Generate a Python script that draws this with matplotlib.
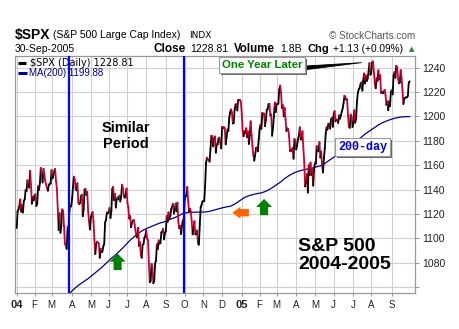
import matplotlib.pyplot as plt
from matplotlib.collections import LineCollection
from matplotlib.patches import Rectangle
from matplotlib.transforms import IdentityTransform
import numpy as np

plt.rcParams['font.family'] = ['Liberation Sans', 'DejaVu Sans']

# trading days in each month, Jan 2004 .. Sep 2005
month_days = [20, 19, 23, 21, 20, 21, 21, 22, 21, 21, 21, 22,
              20, 19, 22, 21, 21, 22, 20, 23, 21]
month_labels = ['04', 'F', 'M', 'A', 'M', 'J', 'J', 'A', 'S', 'O', 'N', 'D',
                '05', 'F', 'M', 'A', 'M', 'J', 'J', 'A', 'S']

# $SPX daily closes
closes = [
    # 2004
    1108.48, 1122.22, 1123.67, 1126.33, 1131.92, 1121.86, 1127.23, 1121.22, 1130.52, 1132.05,
    1139.83, 1138.77, 1147.62, 1143.94, 1141.55, 1155.37, 1144.05, 1128.48, 1134.11, 1131.13,
    1135.26, 1136.03, 1126.52, 1128.59, 1142.76, 1139.81, 1145.54, 1157.76, 1152.11, 1145.81,
    1156.99, 1151.82, 1147.06, 1144.11, 1140.99, 1139.09, 1143.67, 1144.91, 1144.94,
    1155.97, 1149.10, 1151.03, 1154.87, 1156.86, 1147.20, 1140.58, 1123.89, 1106.78, 1120.57,
    1104.49, 1110.70, 1123.75, 1122.32, 1109.78, 1095.40, 1093.95, 1091.33, 1109.19, 1108.06,
    1122.47, 1127.00, 1126.21,
    1132.17, 1141.81, 1150.57, 1148.16, 1140.53, 1139.32, 1145.20, 1129.44, 1128.17, 1128.84,
    1134.61, 1135.82, 1118.15, 1124.09, 1139.93, 1140.60, 1135.53, 1138.11, 1122.41, 1113.89,
    1107.30,
    1117.49, 1119.55, 1121.53, 1113.99, 1098.70, 1087.12, 1095.45, 1097.28, 1096.44, 1095.70,
    1084.10, 1091.49, 1088.68, 1089.19, 1093.56, 1095.41, 1113.05, 1114.94, 1121.28, 1120.68,
    1121.20, 1124.99, 1116.64, 1122.50, 1140.42, 1142.18, 1131.33, 1136.47, 1125.29, 1132.01,
    1133.56, 1132.05, 1135.02, 1130.30, 1134.41, 1144.06, 1140.65, 1134.43, 1133.35, 1136.20,
    1140.84,
    1128.94, 1125.38, 1116.21, 1118.33, 1109.11, 1112.81, 1114.35, 1115.14, 1111.47, 1106.69,
    1101.39, 1100.90, 1108.67, 1093.88, 1096.84, 1086.20, 1084.07, 1094.83, 1095.42, 1100.43,
    1101.72,
    1106.62, 1099.69, 1098.63, 1080.70, 1063.97, 1065.22, 1079.04, 1075.79, 1063.23, 1064.80,
    1079.34, 1081.71, 1095.17, 1091.23, 1098.35, 1095.68, 1096.19, 1104.96, 1105.09, 1107.77,
    1099.15, 1104.24,
    1105.91, 1118.31, 1113.63, 1121.30, 1116.27, 1118.38, 1123.92, 1125.82, 1128.33, 1120.37,
    1123.50, 1128.55, 1122.20, 1129.30, 1113.56, 1108.36, 1110.11, 1103.52, 1110.06, 1114.80,
    1114.58,
    1131.50, 1135.17, 1134.48, 1142.05, 1130.65, 1122.14, 1124.39, 1121.84, 1113.65, 1103.29,
    1108.20, 1114.02, 1103.23, 1103.66, 1106.49, 1095.74, 1094.80, 1111.09, 1125.40, 1127.44,
    1130.20,
    1130.51, 1130.56, 1143.20, 1161.67, 1166.17, 1164.89, 1164.08, 1162.91, 1173.48, 1184.17,
    1183.81, 1175.43, 1181.94, 1183.55, 1170.34, 1177.24, 1176.94, 1181.76, 1182.65, 1178.57,
    1173.82,
    1191.37, 1190.33, 1191.17, 1190.25, 1177.07, 1182.81, 1189.24, 1188.00, 1198.68, 1203.38,
    1205.72, 1203.21, 1194.20, 1194.65, 1205.45, 1209.57, 1210.13, 1204.92, 1213.54, 1213.45,
    1213.55, 1211.92,
    # 2005
    1202.08, 1188.05, 1183.74, 1187.89, 1186.19, 1190.25, 1182.99, 1187.70, 1177.45, 1184.52,
    1195.98, 1184.63, 1175.41, 1167.87, 1163.75, 1168.41, 1174.07, 1174.55, 1171.36, 1181.27,
    1189.41, 1193.19, 1189.89, 1203.03, 1201.72, 1202.30, 1191.99, 1197.01, 1205.30, 1206.14,
    1210.12, 1210.34, 1200.75, 1201.59, 1184.16, 1190.80, 1200.20, 1211.37, 1203.60,
    1210.41, 1210.08, 1210.47, 1222.12, 1225.31, 1219.43, 1207.01, 1209.25, 1200.08, 1206.83,
    1197.75, 1188.07, 1190.21, 1189.65, 1183.78, 1171.71, 1172.53, 1171.42, 1174.28, 1165.36,
    1181.41, 1180.59,
    1172.92, 1176.12, 1181.39, 1184.07, 1191.14, 1181.20, 1181.21, 1187.76, 1173.79, 1162.05,
    1142.62, 1145.98, 1152.78, 1137.50, 1159.95, 1152.12, 1162.10, 1151.83, 1156.38, 1143.22,
    1156.85,
    1162.16, 1161.17, 1175.65, 1172.63, 1171.35, 1178.84, 1166.22, 1171.11, 1159.36, 1154.05,
    1165.69, 1173.80, 1185.56, 1191.08, 1189.28, 1193.86, 1194.07, 1190.01, 1197.62, 1198.78,
    1191.50,
    1202.22, 1204.29, 1196.02, 1197.51, 1197.26, 1194.67, 1200.93, 1198.11, 1200.82, 1203.91,
    1206.58, 1210.96, 1216.96, 1216.10, 1213.61, 1213.88, 1200.73, 1191.57, 1190.69, 1201.57,
    1199.85, 1191.33,
    1194.44, 1204.99, 1194.94, 1197.87, 1211.86, 1219.44, 1222.21, 1223.29, 1226.50, 1227.92,
    1221.13, 1229.35, 1235.20, 1227.04, 1233.68, 1229.03, 1231.16, 1236.79, 1243.72, 1234.18,
    1235.35, 1244.12, 1245.04, 1235.86, 1226.42, 1223.13, 1231.38, 1229.13, 1237.81, 1230.39,
    1233.87, 1219.34, 1220.24, 1219.02, 1219.71, 1221.73, 1217.59, 1209.59, 1212.37, 1205.10,
    1212.28, 1208.41, 1220.33,
    1221.59, 1218.02, 1233.39, 1236.36, 1231.67, 1241.48, 1240.56, 1231.20, 1227.16, 1227.73,
    1237.91, 1231.02, 1221.34, 1210.20, 1214.62, 1215.29, 1215.63, 1215.66, 1216.89, 1227.68,
    1228.81,
]

# 200-day moving average, sampled every 5 trading days from day 50
ma_first_day = 50
ma_step = 5
ma200 = [
    1048.0, 1052.0, 1055.5, 1059.0, 1062.0, 1064.5, 1067.0, 1070.0, 1073.0, 1076.0,
    1079.5, 1083.0, 1086.0, 1089.5, 1093.0, 1097.0, 1100.5, 1103.5, 1106.0, 1108.0,
    1109.5, 1111.0, 1112.5, 1113.5, 1115.0, 1116.5, 1118.0, 1120.0, 1121.0, 1121.3,
    1121.5, 1121.5, 1121.6, 1122.0, 1123.0, 1124.0, 1125.0, 1125.8, 1126.5, 1128.5,
    1131.0, 1133.5, 1135.0, 1136.0, 1136.8, 1137.5, 1139.0, 1141.0, 1143.5, 1146.0,
    1149.0, 1151.5, 1153.5, 1155.0, 1156.0, 1156.8, 1157.5, 1158.5, 1159.5, 1161.5,
    1164.0, 1166.5, 1169.0, 1171.5, 1174.0, 1176.5, 1179.5, 1182.5, 1185.5, 1188.0,
    1190.5, 1193.0, 1195.0, 1196.5, 1197.8, 1198.8, 1199.5, 1199.8, 1199.88,
]

# trading-day index of the two marker lines (end of Mar 2004, end of Sep 2004)
similar_period = [59, 187]

y_ticks = [1060, 1080, 1100, 1120, 1140, 1160, 1180, 1200, 1220, 1240]

UP = 'black'
DOWN = '#cc0033'
W, H = 460, 329


def fx(x):
    return x / W


def fy(y):
    return 1 - y / H


fig = plt.figure(figsize=(W / 100, H / 100), dpi=100)
ax = fig.add_axes([fx(15), fy(293), (415 - 15) / W, (293 - 55.7) / H])

n = len(closes)
days = np.arange(n)
prices = np.array(closes)

# price line, black on up days and red on down days
pts = np.column_stack([days, prices])
segs = np.stack([pts[:-1], pts[1:]], axis=1)
seg_colors = np.where(np.diff(prices) >= 0, UP, DOWN)
ax.add_collection(LineCollection(segs, colors=seg_colors, linewidths=1.3, zorder=4,
                                 capstyle='round', joinstyle='round'))

ma_days = ma_first_day + ma_step * np.arange(len(ma200))
ma_days[-1] = min(ma_days[-1], n - 1)
ax.plot(ma_days, ma200, color='#000088', lw=0.9, zorder=3)

for d in similar_period:
    ax.axvline(d, color='#0000ff', lw=1.6, zorder=5)

month_starts = np.concatenate([[0], np.cumsum(month_days)[:-1]])
ax.set_xticks(month_starts)
ax.set_xticklabels(month_labels)
for lbl in ax.get_xticklabels():
    if lbl.get_text() in ('04', '05'):
        lbl.set_fontweight('bold')
        lbl.set_fontsize(8)
    else:
        lbl.set_fontsize(7)

ax.set_yticks(y_ticks)
ax.set_yticklabels(['' if v == 1060 else str(v) for v in y_ticks], fontsize=7.5)
ax.yaxis.tick_right()
ax.tick_params(axis='y', length=3, color='#999999', pad=2, labelcolor='#222222')
ax.tick_params(axis='x', length=2, color='#999999', pad=3, labelcolor='#222222')

ax.set_xlim(-1.9, 446)
ax.set_ylim(1055.2, 1249.8)
ax.grid(True, color='#d0d0d0', lw=0.8, zorder=0)
ax.set_axisbelow(True)
for sp in ax.spines.values():
    sp.set_color('#999999')
    sp.set_linewidth(0.9)

# legend rows in the top-left corner
ax.plot([fx(18), fx(26)], [fy(62.5), fy(62.5)], transform=fig.transFigure,
        color='black', lw=2.2, solid_capstyle='butt', zorder=2, clip_on=False)
ax.text(fx(30), fy(62.5), '$SPX (Daily) 1228.81', transform=fig.transFigure,
        family='DejaVu Sans', fontsize=7, va='center', ha='left', zorder=2)
ax.plot([fx(18), fx(27)], [fy(72.7), fy(72.7)], transform=fig.transFigure,
        color='#000088', lw=2.2, solid_capstyle='butt', zorder=2, clip_on=False)
ax.text(fx(29), fy(72.7), 'MA(200) 1199.88', transform=fig.transFigure,
        fontsize=7, va='center', ha='left', color='#000088', zorder=2)

# notes on the chart
ax.text(122, 1184, 'Similar\nPeriod', fontsize=10.5, fontweight='bold',
        ha='center', va='center', linespacing=1.25, zorder=6)
ax.text(315.5, 1086, 'S&P 500\n2004-2005', fontsize=14, fontweight='bold',
        ha='left', va='center', linespacing=1.1, zorder=6)

ax.annotate('', xy=(386, 1244.1), xytext=(320, 1239.6),
            arrowprops=dict(arrowstyle='wedge,tail_width=0.28,shrink_factor=0.5',
                            fc='black', ec='black', lw=0.6, shrinkA=0, shrinkB=0),
            zorder=6)
boxed = [
    ax.text(275, 1242.2, 'One Year Later', color='#008000', fontsize=8.2,
            fontweight='bold', ha='center', va='center', zorder=7,
            bbox=dict(boxstyle='square,pad=0.25', fc='white', ec='#9a9a9a', lw=0.8)),
    ax.text(387, 1175.2, '200-day', color='#0000dd', fontsize=8.5, fontweight='bold',
            family='Liberation Mono', ha='center', va='center', zorder=7,
            bbox=dict(boxstyle='square,pad=0.25', fc='white', ec='#9a9a9a', lw=0.8)),
]

green_arrow = 'simple,head_length=5.8,head_width=11.5,tail_width=5.8'
orange_arrow = 'simple,head_length=5.8,head_width=8.6,tail_width=5.3'
for tip, tail in [((113, 1087.5), (113, 1074)), ((277, 1132.3), (277, 1119))]:
    ax.annotate('', xy=tip, xytext=tail, zorder=6,
                arrowprops=dict(arrowstyle=green_arrow, mutation_scale=1,
                                fc='#008000', ec='none', shrinkA=0, shrinkB=0))
ax.annotate('', xy=(241.5, 1121), xytext=(260, 1121), zorder=6,
            arrowprops=dict(arrowstyle=orange_arrow, mutation_scale=1,
                            fc='#ff6600', ec='none', shrinkA=0, shrinkB=0))

# header
fig.text(fx(15), fy(35.5), '$SPX', fontsize=10, fontweight='bold', va='center')
fig.text(fx(53), fy(35.5), '(S&P 500 Large Cap Index)', fontsize=7.5, va='center')
fig.text(fx(189), fy(35.5), 'INDX', fontsize=6.5, family='DejaVu Sans', va='center')
fig.text(fx(415), fy(36), '\u00a9 StockCharts.com', fontsize=7.2, color='#555555',
         ha='right', va='center')
fig.text(fx(15), fy(49.3), '30-Sep-2005', fontsize=7.5, va='center')
for x, s, bold, size in [(153, 'Close', True, 8.5), (190, '1228.81', False, 7.5),
                         (234, 'Volume', True, 8.3), (280, '1.8B', False, 7.5),
                         (307, 'Chg', True, 8.0), (333, '+1.13 (+0.09%)', False, 7.3)]:
    fig.text(fx(x), fy(49.3), s, fontsize=size, va='center',
             fontweight='bold' if bold else 'normal')
fig.text(fx(411.5), fy(49.5), '\u25b2', fontsize=5, family='DejaVu Sans',
         color='#2e7d32', ha='center', va='center')

# drop shadows behind the boxed notes
fig.canvas.draw()
for t in boxed:
    bb = t.get_bbox_patch().get_window_extent()
    ax.add_patch(Rectangle((bb.x0 + 2, bb.y0 - 2), bb.width, bb.height,
                           transform=IdentityTransform(), fc='#666666', ec='none',
                           zorder=6.5))

fig.savefig('out.png', dpi=100)
